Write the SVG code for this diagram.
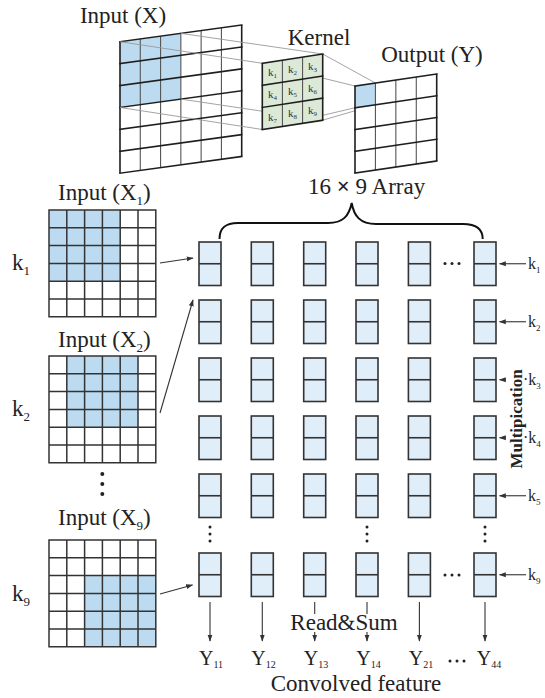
<svg xmlns="http://www.w3.org/2000/svg" xmlns:xlink="http://www.w3.org/1999/xlink" width="545" height="698" viewBox="0 0 545 698">
  <style>
    text { font-family: "Liberation Serif", "Times New Roman", serif; fill: #222; }
    .lbl { font-size: 23px; }
    .sub { font-size: 13px; }
    .kr { font-size: 16px; }
    .krs { font-size: 9px; }
    .kk { font-size: 11px; fill: #333; }
    .kks { font-size: 7px; fill: #333; }
    .yl { font-size: 20px; }
    .yls { font-size: 10px; }
    .grid { fill: none; stroke: #333; stroke-width: 1.5; stroke-linecap: square; }
    .hl { fill: none; stroke: #1e1e1e; stroke-width: 1.6; stroke-linecap: square; }
    .vl { fill: none; stroke: #555; stroke-width: 1.1; }
    .edge { fill: none; stroke: #1e1e1e; stroke-width: 1.6; }
    .blue { fill: #bddbf0; }
    .green { fill: #dce9d6; }
    .proj { fill: none; stroke: #9a9a9a; stroke-width: 0.9; }
    .pe { fill: #e0eefa; stroke: #333; stroke-width: 1.6; }
    .pe-mid { stroke: #333; stroke-width: 1.6; }
    .arr { fill: none; stroke: #333; stroke-width: 1.1; marker-end: url(#ah); }
    .brace { fill: none; stroke: #111; stroke-width: 2; }
    .dot { fill: #222; }
  </style>
  <defs>
    <marker id="ah" viewBox="0 0 10 10" refX="9" refY="5" markerWidth="7" markerHeight="7" markerUnits="userSpaceOnUse" orient="auto">
      <path d="M0,1.5 L10,5 L0,8.5 z" fill="#333"/>
    </marker>
    <!-- 6x6 input tile grid -->
    <path id="grid6" class="grid" d="M0,0h106.8M0,17.8h106.8M0,35.6h106.8M0,53.4h106.8M0,71.2h106.8M0,89h106.8M0,106.8h106.8M0,0v106.8M17.8,0v106.8M35.6,0v106.8M53.4,0v106.8M71.2,0v106.8M89,0v106.8M106.8,0v106.8"/>
    <!-- processing element: two stacked cells -->
    <g id="pe">
      <rect x="0" y="0" width="22" height="43.5" class="pe"/>
      <line x1="0" y1="21.75" x2="22" y2="21.75" class="pe-mid"/>
    </g>
  </defs>

  <rect width="545" height="698" fill="#fff"/>

  <!-- ===== Top: convolution overview ===== -->
  <g id="input-x">
    <text class="lbl" x="123" y="23" text-anchor="middle">Input (X)</text>
    <g transform="matrix(1,-0.137,0,1,120,41.7)">
      <rect class="blue" x="0" y="0" width="60.85" height="65.75"/>
      <path class="vl" d="M20.28,0v131.5M40.57,0v131.5M60.85,0v131.5M81.13,0v131.5M101.42,0v131.5"/>
      <path class="hl" d="M0,0h121.7M0,21.92h121.7M0,43.83h121.7M0,65.75h121.7M0,87.67h121.7M0,109.58h121.7M0,131.5h121.7"/>
      <path class="edge" d="M0,0v131.5M121.7,0v131.5"/>
    </g>
  </g>

  <g id="projection">
    <!-- input window corners to kernel corners -->
    <path class="proj" d="M120,41.7L262.3,63.3M180.85,33.36L322.7,54M180.85,99.1L322.7,120.2M120,107.45L262.3,129.5"/>
    <!-- kernel corners to output cell corners -->
    <path class="proj" d="M262.3,63.3L355,86M322.7,54L375.4,83M322.7,120.2L375.4,104.75M262.3,129.5L355,107.75"/>
  </g>

  <g id="kernel">
    <text class="lbl" x="319" y="45" text-anchor="middle">Kernel</text>
    <g transform="matrix(1,-0.154,0,1,262.3,63.3)">
      <rect class="green" x="0" y="0" width="60.4" height="66.2"/>
      <path class="vl" d="M20.13,0v66.2M40.27,0v66.2"/>
      <path class="hl" d="M0,0h60.4M0,22.07h60.4M0,44.13h60.4M0,66.2h60.4"/>
      <path class="edge" d="M0,0v66.2M60.4,0v66.2"/>
    </g>
    <g text-anchor="middle">
      <text class="kk" x="272.4" y="76.3">k<tspan class="kks" dy="2">1</tspan></text>
      <text class="kk" x="292.5" y="73.2">k<tspan class="kks" dy="2">2</tspan></text>
      <text class="kk" x="312.6" y="70.1">k<tspan class="kks" dy="2">3</tspan></text>
      <text class="kk" x="272.4" y="98.4">k<tspan class="kks" dy="2">4</tspan></text>
      <text class="kk" x="292.5" y="95.3">k<tspan class="kks" dy="2">5</tspan></text>
      <text class="kk" x="312.6" y="92.2">k<tspan class="kks" dy="2">6</tspan></text>
      <text class="kk" x="272.4" y="120.5">k<tspan class="kks" dy="2">7</tspan></text>
      <text class="kk" x="292.5" y="117.4">k<tspan class="kks" dy="2">8</tspan></text>
      <text class="kk" x="312.6" y="114.3">k<tspan class="kks" dy="2">9</tspan></text>
    </g>
  </g>

  <g id="output-y">
    <text class="lbl" x="432" y="62" text-anchor="middle">Output (Y)</text>
    <g transform="matrix(1,-0.147,0,1,355,86)">
      <rect fill="#fff" x="0" y="0" width="81.7" height="87"/>
      <rect class="blue" x="0" y="0" width="20.43" height="21.75"/>
      <path class="vl" d="M20.43,0v87M40.85,0v87M61.28,0v87"/>
      <path class="hl" d="M0,0h81.7M0,21.75h81.7M0,43.5h81.7M0,65.25h81.7M0,87h81.7"/>
      <path class="edge" d="M0,0v87M81.7,0v87"/>
    </g>
  </g>

  <!-- ===== Left: shifted input tiles ===== -->
  <g id="input-x1">
    <text class="lbl" x="58" y="200">Input (X<tspan class="sub" dy="5">1</tspan><tspan dy="-5">)</tspan></text>
    <rect class="blue" x="49" y="210" width="71.2" height="71.2"/>
    <use xlink:href="#grid6" x="49" y="210"/>
    <text class="lbl" x="12" y="270">k<tspan class="sub" dy="5">1</tspan></text>
  </g>
  <g id="input-x2">
    <text class="lbl" x="58" y="347">Input (X<tspan class="sub" dy="5">2</tspan><tspan dy="-5">)</tspan></text>
    <rect class="blue" x="66.8" y="356" width="71.2" height="71.2"/>
    <use xlink:href="#grid6" x="49" y="356"/>
    <text class="lbl" x="12" y="416">k<tspan class="sub" dy="5">2</tspan></text>
  </g>
  <g id="input-ellipsis">
    <circle class="dot" cx="102.3" cy="474" r="2"/>
    <circle class="dot" cx="102.3" cy="484" r="2"/>
    <circle class="dot" cx="102.3" cy="494" r="2"/>
  </g>
  <g id="input-x9">
    <text class="lbl" x="58" y="525">Input (X<tspan class="sub" dy="5">9</tspan><tspan dy="-5">)</tspan></text>
    <rect class="blue" x="84.6" y="575.6" width="71.2" height="71.2"/>
    <use xlink:href="#grid6" x="49" y="540"/>
    <text class="lbl" x="12" y="601">k<tspan class="sub" dy="5">9</tspan></text>
  </g>

  <!-- ===== 16 x 9 array ===== -->
  <g id="array-title">
    <text class="lbl" x="308" y="194">16 <tspan font-weight="bold">×</tspan> 9 Array</text>
  </g>

  <g id="array">
    <g id="pe-r1-c1"><use xlink:href="#pe" x="199" y="242"/></g>
    <g id="pe-r1-c2"><use xlink:href="#pe" x="251.3" y="242"/></g>
    <g id="pe-r1-c3"><use xlink:href="#pe" x="303.7" y="242"/></g>
    <g id="pe-r1-c4"><use xlink:href="#pe" x="356" y="242"/></g>
    <g id="pe-r1-c5"><use xlink:href="#pe" x="408.4" y="242"/></g>
    <g id="pe-r1-c16"><use xlink:href="#pe" x="474" y="242"/></g>

    <g id="pe-r2-c1"><use xlink:href="#pe" x="199" y="300"/></g>
    <g id="pe-r2-c2"><use xlink:href="#pe" x="251.3" y="300"/></g>
    <g id="pe-r2-c3"><use xlink:href="#pe" x="303.7" y="300"/></g>
    <g id="pe-r2-c4"><use xlink:href="#pe" x="356" y="300"/></g>
    <g id="pe-r2-c5"><use xlink:href="#pe" x="408.4" y="300"/></g>
    <g id="pe-r2-c16"><use xlink:href="#pe" x="474" y="300"/></g>

    <g id="pe-r3-c1"><use xlink:href="#pe" x="199" y="358"/></g>
    <g id="pe-r3-c2"><use xlink:href="#pe" x="251.3" y="358"/></g>
    <g id="pe-r3-c3"><use xlink:href="#pe" x="303.7" y="358"/></g>
    <g id="pe-r3-c4"><use xlink:href="#pe" x="356" y="358"/></g>
    <g id="pe-r3-c5"><use xlink:href="#pe" x="408.4" y="358"/></g>
    <g id="pe-r3-c16"><use xlink:href="#pe" x="474" y="358"/></g>

    <g id="pe-r4-c1"><use xlink:href="#pe" x="199" y="416"/></g>
    <g id="pe-r4-c2"><use xlink:href="#pe" x="251.3" y="416"/></g>
    <g id="pe-r4-c3"><use xlink:href="#pe" x="303.7" y="416"/></g>
    <g id="pe-r4-c4"><use xlink:href="#pe" x="356" y="416"/></g>
    <g id="pe-r4-c5"><use xlink:href="#pe" x="408.4" y="416"/></g>
    <g id="pe-r4-c16"><use xlink:href="#pe" x="474" y="416"/></g>

    <g id="pe-r5-c1"><use xlink:href="#pe" x="199" y="474"/></g>
    <g id="pe-r5-c2"><use xlink:href="#pe" x="251.3" y="474"/></g>
    <g id="pe-r5-c3"><use xlink:href="#pe" x="303.7" y="474"/></g>
    <g id="pe-r5-c4"><use xlink:href="#pe" x="356" y="474"/></g>
    <g id="pe-r5-c5"><use xlink:href="#pe" x="408.4" y="474"/></g>
    <g id="pe-r5-c16"><use xlink:href="#pe" x="474" y="474"/></g>

    <g id="pe-r9-c1"><use xlink:href="#pe" x="199" y="553"/></g>
    <g id="pe-r9-c2"><use xlink:href="#pe" x="251.3" y="553"/></g>
    <g id="pe-r9-c3"><use xlink:href="#pe" x="303.7" y="553"/></g>
    <g id="pe-r9-c4"><use xlink:href="#pe" x="356" y="553"/></g>
    <g id="pe-r9-c5"><use xlink:href="#pe" x="408.4" y="553"/></g>
    <g id="pe-r9-c16"><use xlink:href="#pe" x="474" y="553"/></g>

    <!-- elided columns and rows -->
    <g id="array-ellipses">
      <circle class="dot" cx="445" cy="263.5" r="1.5"/>
      <circle class="dot" cx="452" cy="263.5" r="1.5"/>
      <circle class="dot" cx="459" cy="263.5" r="1.5"/>
      <circle class="dot" cx="445" cy="575" r="1.5"/>
      <circle class="dot" cx="452" cy="575" r="1.5"/>
      <circle class="dot" cx="459" cy="575" r="1.5"/>
      <circle class="dot" cx="210" cy="527" r="1.5"/>
      <circle class="dot" cx="210" cy="534" r="1.5"/>
      <circle class="dot" cx="210" cy="541" r="1.5"/>
      <circle class="dot" cx="367" cy="527" r="1.5"/>
      <circle class="dot" cx="367" cy="534" r="1.5"/>
      <circle class="dot" cx="367" cy="541" r="1.5"/>
      <circle class="dot" cx="485" cy="527" r="1.5"/>
      <circle class="dot" cx="485" cy="534" r="1.5"/>
      <circle class="dot" cx="485" cy="541" r="1.5"/>
    </g>
  </g>

  <!-- ===== Weight inputs on the right ===== -->
  <g id="weights">
    <text class="kr" x="528" y="268.5">k<tspan class="krs" dy="4">1</tspan></text>
    <text class="kr" x="528" y="326.5">k<tspan class="krs" dy="4">2</tspan></text>
    <text class="kr" x="523" y="384.5">·k<tspan class="krs" dy="4">3</tspan></text>
    <text class="kr" x="523" y="442.5">·k<tspan class="krs" dy="4">4</tspan></text>
    <text class="kr" x="528" y="500.5">k<tspan class="krs" dy="4">5</tspan></text>
    <text class="kr" x="528" y="579.5">k<tspan class="krs" dy="4">9</tspan></text>
    <text x="0" y="0" transform="translate(522,419) rotate(-90)" text-anchor="middle" font-size="17" font-weight="bold">Multipication</text>
  </g>

  <!-- ===== Connectors ===== -->
  <g id="connectors">
    <path class="brace" d="M219.5,239 C219.5,228 225,223 238,223 L328,223 C343,223 349,216 351.7,203 C354,216 360,224 376,224 L463,224 C476,224 482.7,229 482.7,239"/>
    <!-- tiles to first-column inputs -->
    <line class="arr" x1="160" y1="263" x2="193" y2="258"/>
    <line class="arr" x1="160" y1="413" x2="193" y2="300"/>
    <line class="arr" x1="160" y1="594" x2="192.5" y2="585"/>
    <!-- weights into last column -->
    <line class="arr" x1="526" y1="263.75" x2="499.5" y2="263.75"/>
    <line class="arr" x1="526" y1="321.75" x2="499.5" y2="321.75"/>
    <line class="arr" x1="506" y1="379.75" x2="499.5" y2="379.75"/>
    <line class="arr" x1="506" y1="437.75" x2="499.5" y2="437.75"/>
    <line class="arr" x1="526" y1="495.75" x2="499.5" y2="495.75"/>
    <line class="arr" x1="526" y1="574.75" x2="499.5" y2="574.75"/>
    <!-- column read-out -->
    <line class="arr" x1="210" y1="602" x2="210" y2="641"/>
    <line class="arr" x1="262.3" y1="602" x2="262.3" y2="641"/>
    <line class="arr" x1="314.7" y1="602" x2="314.7" y2="641"/>
    <line class="arr" x1="367" y1="602" x2="367" y2="641"/>
    <line class="arr" x1="419.4" y1="602" x2="419.4" y2="641"/>
    <line class="arr" x1="485" y1="602" x2="485" y2="641"/>
  </g>

  <!-- ===== Outputs ===== -->
  <g id="outputs">
    <!-- backing so the label sits over the read-out lines -->
    <rect x="290" y="614" width="108" height="18" fill="#fff"/>
    <text class="lbl" x="344" y="630" text-anchor="middle">Read&amp;Sum</text>
    <g text-anchor="middle">
      <text class="yl" x="211" y="665">Y<tspan class="yls" dy="3">11</tspan></text>
      <text class="yl" x="263.5" y="665">Y<tspan class="yls" dy="3">12</tspan></text>
      <text class="yl" x="316" y="665">Y<tspan class="yls" dy="3">13</tspan></text>
      <text class="yl" x="368.5" y="665">Y<tspan class="yls" dy="3">14</tspan></text>
      <text class="yl" x="421" y="665">Y<tspan class="yls" dy="3">21</tspan></text>
      <text class="yl" x="489" y="665">Y<tspan class="yls" dy="3">44</tspan></text>
    </g>
    <circle class="dot" cx="450" cy="661" r="1.5"/>
    <circle class="dot" cx="457" cy="661" r="1.5"/>
    <circle class="dot" cx="464" cy="661" r="1.5"/>
    <text class="lbl" x="356" y="691" text-anchor="middle">Convolved feature</text>
  </g>
</svg>
